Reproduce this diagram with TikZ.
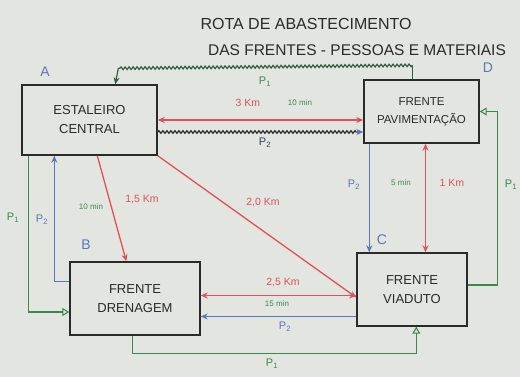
\documentclass[tikz,border=0pt]{standalone}
\usepackage{fontspec}
\setmainfont{Liberation Sans}
\usetikzlibrary{arrows.meta,calc,decorations.pathmorphing}
\definecolor{board}{HTML}{E3E5E0}
\definecolor{ink}{HTML}{2A2A2A}
\definecolor{rd}{HTML}{E2505C}
\definecolor{gr}{HTML}{3A8A4E}
\definecolor{bl}{HTML}{5A78B8}
\begin{document}
\begin{tikzpicture}[x=1pt,y=-1pt,
  box/.style={draw=ink,line width=1.4pt,inner sep=0pt,align=center,
              font=\fontsize{13}{19}\selectfont,text=ink},
  dist/.style={rd,line width=1.3pt},
  pone/.style={gr,line width=1.1pt},
  ptwo/.style={bl,line width=1.1pt},
  squig/.style={line width=1.2pt,decorate,
                decoration={snake,amplitude=1.3pt,segment length=4pt}},
  km/.style={text=rd,font=\fontsize{10.5}{12}\selectfont},
  tm/.style={text=gr,font=\fontsize{8}{9}\selectfont},
  pl/.style={font=\fontsize{11}{12}\selectfont},
  corner/.style={text=bl,font=\fontsize{14}{16}\selectfont},
  tip/.style={-{Stealth[length=7pt,width=6pt]}},
  tips/.style={{Stealth[length=7pt,width=6pt]}-{Stealth[length=7pt,width=6pt]}},
  otip/.style={-{Triangle[open,length=7pt,width=8pt]}}]
\fill[board] (0,0) rectangle (520,377);
\useasboundingbox (0,0) rectangle (520,377);

% title
\node[text=ink,font=\fontsize{16}{18}\selectfont] (t1) at (306,24) {ROTA DE ABASTECIMENTO};
\node[text=ink,font=\fontsize{15.5}{18}\selectfont] (t2) at (357,50) {DAS FRENTES - PESSOAS E MATERIAIS};

% work fronts
\node[box,minimum width=135pt,minimum height=70pt] (est) at (89.5,120) {ESTALEIRO\\CENTRAL};
\node[box,minimum width=115pt,minimum height=63pt,font=\fontsize{11.5}{18}\selectfont] (pav) at (421.5,111.5) {FRENTE\\PAVIMENTAÇÃO};
\node[box,minimum width=130pt,minimum height=73pt] (dre) at (135,298.5) {FRENTE\\DRENAGEM};
\node[box,minimum width=110pt,minimum height=73pt] (via) at (412,289.5) {FRENTE\\VIADUTO};

\node[corner] (la) at (45,72) {A};
\node[corner] (ld) at (488,68) {D};
\node[corner] (lb) at (86,245) {B};
\node[corner] (lc) at (382,240) {C};

% squiggled routes between A and D
\coordinate (dtop) at ($(pav.north west)+(49,0)$);
\coordinate (atop) at ($(est.north west)+(94,0)$);
\draw[gr!55!ink,line width=1.2pt] (dtop) -- ($(dtop)+(0,-14)$);
\draw[gr!55!ink,squig] ($(dtop)+(0,-14)$) -- ($(atop)+(3,-16)$);
\draw[gr!55!ink,line width=1.2pt,tip] ($(atop)+(3,-16)$) -- (atop);
\node[pl,text=gr] (p1top) at (265,82) {P\textsubscript{1}};

\draw[dist,tips] (est.east) -- (est.east -| pav.west);
\node[km] (k3) at (248,103) {3 Km};
\node[tm] (m10a) at (300,103) {10 min};

\coordinate (wa) at ($(est.east)+(0,12)$);
\draw[ink,squig] (wa) -- ($(wa -| pav.west)+(-6,0)$);
\draw[bl,line width=1.2pt,tip] ($(wa -| pav.west)+(-7,0)$) -- (wa -| pav.west);
\node[pl,text=ink!70!bl] (p2mid) at (265,143) {P\textsubscript{2}};

% A to B and A to C
\draw[dist,tip] ($(est.south west)+(76,0)$) -- ($(dre.north west)+(57,0)$);
\node[km] (k15) at (142,200) {1,5 Km};
\node[tm] (m10b) at (91,207) {10 min};

\draw[dist,tip] (est.south east) -- ($(via.west)+(0,8)$);
\node[km] (k20) at (263,203) {2,0 Km};

% B and C
\coordinate (bc) at ($(dre.east)+(0,-3)$);
\draw[dist,tips] (bc) -- (bc -| via.west);
\node[km] (k25) at (283,283) {2,5 Km};
\node[tm] (m15) at (277,304) {15 min};

\coordinate (cb) at ($(via.west)+(0,27)$);
\draw[ptwo,tip] (cb) -- (cb -| dre.east);
\node[pl,text=bl] (p2bc) at (285,327) {P\textsubscript{2}};

\coordinate (bs) at ($(dre.south west)+(63,0)$);
\coordinate (cs) at ($(via.south west)+(60,0)$);
\coordinate (bsl) at ($(bs)+(0,18)$);
\draw[pone,otip] (bs) -- (bsl) -- (bsl -| cs) -- (cs);
\node[pl,text=gr] (p1bc) at (272,364) {P\textsubscript{1}};

% A and B on the left
\coordinate (as1) at ($(est.south west)+(7,0)$);
\coordinate (bw1) at ($(dre.west)+(0,13.5)$);
\draw[pone,otip] (as1) -- (as1 |- bw1) -- (bw1);
\node[pl,text=gr] (p1ab) at (13,218) {P\textsubscript{1}};

\coordinate (bw2) at ($(dre.west)+(0,-17)$);
\coordinate (as2) at ($(est.south west)+(33,0)$);
\draw[ptwo,tip] (bw2) -- (bw2 -| as2) -- (as2);
\node[pl,text=bl] (p2ab) at (42,220) {P\textsubscript{2}};

% D and C on the right
\coordinate (ds) at ($(pav.south west)+(6,0)$);
\draw[ptwo,tip] (ds) -- (ds |- via.north);
\node[pl,text=bl] (p2dc) at (354,185) {P\textsubscript{2}};

\coordinate (dm) at ($(pav.south)+(4,0)$);
\draw[dist,tips] (dm) -- (dm |- via.north);
\node[tm] (m5) at (401,183) {5 min};
\node[km] (k1) at (452,183) {1 Km};

\coordinate (ce) at ($(via.east)+(0,-4.5)$);
\coordinate (cer) at ($(ce)+(30,0)$);
\draw[pone,otip] (ce) -- (cer) -- (cer |- pav.east) -- (pav.east);
\node[pl,text=gr] (p1dc) at (511,185) {P\textsubscript{1}};
\end{tikzpicture}
\end{document}
